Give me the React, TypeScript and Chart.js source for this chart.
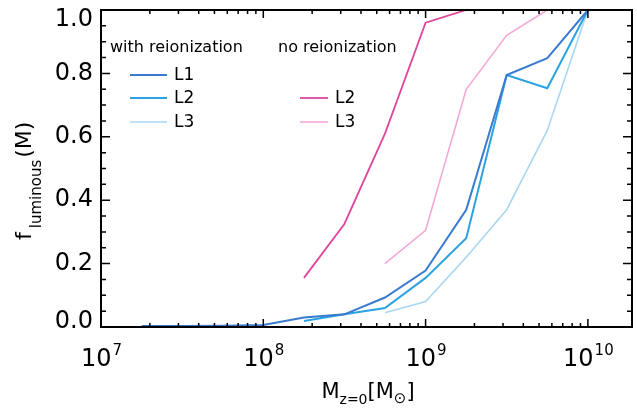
import React, { useEffect, useRef } from "react";
import { Chart, registerables } from "chart.js";

Chart.register(...registerables);

// Halo mass at z=0 (solar masses), 0.25 dex grid
const massGrid = [1.78e7, 3.16e7, 5.62e7, 1e8, 1.78e8, 3.16e8, 5.62e8, 1e9, 1.78e9, 3.16e9, 5.62e9, 1e10];

// with reionization
const reionL1 = [0.003, 0.003, 0.004, 0.006, 0.03, 0.04, 0.093, 0.178, 0.37, 0.795, 0.848, 1.0];
const reionL2 = [null, null, null, null, 0.019, 0.04, 0.06, 0.155, 0.28, 0.795, 0.753, 1.0];
const reionL3 = [null, null, null, null, null, null, 0.045, 0.08, 0.22, 0.37, 0.62, 1.0];

// no reionization
const noReionL2 = [null, null, null, null, 0.155, 0.325, 0.61, 0.96, 1.0, 1.0, 1.0, 1.0];
const noReionL3 = [null, null, null, null, null, null, 0.2, 0.305, 0.75, 0.92, 1.0, 1.0];

const xMajorTicks = [1e7, 1e8, 1e9, 1e10];
const xTickExponents = ["7", "8", "9", "10"];
const yTicks = [0, 0.2, 0.4, 0.6, 0.8, 1.0];
const yTickLabels = ["0.0", "0.2", "0.4", "0.6", "0.8", "1.0"];

const seriesLabels = ["L1", "L2", "L3", "L2", "L3"];
const seriesColors = ["#3a7bd0", "#2aa2e2", "#aad6f2", "#e0459c", "#f4a9d6"];
const seriesWidths = [2, 2, 1.6, 1.8, 1.6];

const FONT = "'DejaVu Sans', sans-serif";

const toPoints = (ys: (number | null)[]) => massGrid.map((x, i) => ({ x, y: ys[i] }));

const framePlugin = {
  id: "idlFrame",
  afterDatasetsDraw(chart: any) {
    const ctx: CanvasRenderingContext2D = chart.ctx;
    const { left, right, top, bottom } = chart.chartArea;
    const xs = chart.scales.x;
    const ys = chart.scales.y;
    ctx.save();
    ctx.strokeStyle = "#000";
    ctx.fillStyle = "#000";
    ctx.lineWidth = 2;
    ctx.strokeRect(left, top, right - left, bottom - top);

    // x ticks (bottom & top)
    ctx.lineWidth = 1.5;
    for (let d = 0; d < xMajorTicks.length; d++) {
      const dec = xMajorTicks[d];
      for (let k = 1; k <= 9; k++) {
        const v = dec * k;
        if (v > xs.max) break;
        const px = xs.getPixelForValue(v);
        const len = k === 1 ? 8 : 4;
        ctx.beginPath();
        ctx.moveTo(px, bottom);
        ctx.lineTo(px, bottom - len);
        ctx.moveTo(px, top);
        ctx.lineTo(px, top + len);
        ctx.stroke();
      }
    }
    // y ticks (left & right)
    for (let i = 0; i <= 20; i++) {
      const v = i * 0.05;
      const py = ys.getPixelForValue(v);
      const len = i % 4 === 0 ? 9 : 5;
      ctx.beginPath();
      ctx.moveTo(left, py);
      ctx.lineTo(left + len, py);
      ctx.moveTo(right, py);
      ctx.lineTo(right - len, py);
      ctx.stroke();
    }

    // y tick labels
    ctx.font = `24px ${FONT}`;
    ctx.textAlign = "right";
    ctx.textBaseline = "middle";
    yTicks.forEach((v, i) => {
      let py = Math.max(ys.getPixelForValue(v), 20);
      if (i === 0) py -= 5;
      ctx.fillText(yTickLabels[i], left - 8, py);
    });

    // x tick labels 10^n
    ctx.textBaseline = "alphabetic";
    ctx.textAlign = "left";
    xMajorTicks.forEach((v, i) => {
      const px = xs.getPixelForValue(v);
      ctx.font = `24px ${FONT}`;
      const w1 = ctx.measureText("10").width;
      ctx.font = `15px ${FONT}`;
      const w2 = ctx.measureText(xTickExponents[i]).width;
      const x0 = px - (w1 + w2) / 2;
      ctx.font = `24px ${FONT}`;
      ctx.fillText("10", x0, 366);
      ctx.font = `15px ${FONT}`;
      ctx.fillText(xTickExponents[i], x0 + w1 + 1, 355);
    });

    // x axis title M_{z=0}[M_sun]
    const parts = [
      { t: "M", s: 21, dy: 0 },
      { t: "z=0", s: 14, dy: 6 },
      { t: "[M", s: 21, dy: 0 },
      { t: "\u2299", s: 15, dy: 5 },
      { t: "]", s: 21, dy: 0 },
    ];
    const widths = parts.map((p) => {
      ctx.font = `${p.s}px ${FONT}`;
      return ctx.measureText(p.t).width;
    });
    const total = widths.reduce((a, b) => a + b, 0);
    let cx = 368 - total / 2;
    parts.forEach((p, i) => {
      ctx.font = `${p.s}px ${FONT}`;
      ctx.fillText(p.t, cx, 398 + p.dy);
      cx += widths[i];
    });

    // y axis title f_luminous(M)
    ctx.save();
    ctx.translate(31, 240);
    ctx.rotate(-Math.PI / 2);
    ctx.font = `22px ${FONT}`;
    ctx.fillText("f", 0, 0);
    let yx = ctx.measureText("f").width + 4;
    ctx.font = `15px ${FONT}`;
    ctx.fillText("luminous", yx, 10);
    yx += ctx.measureText("luminous").width + 2;
    ctx.font = `22px ${FONT}`;
    ctx.fillText("(M)", yx, 0);
    ctx.restore();

    // legend
    ctx.font = `16px ${FONT}`;
    ctx.textBaseline = "middle";
    ctx.fillText("with reionization", 110, 48);
    ctx.fillText("no reionization", 278, 48);
    const legendRows = [75, 98, 122, 98, 122];
    seriesLabels.forEach((lab, i) => {
      const isPink = i >= 3;
      const x1 = isPink ? 300 : 130;
      const x2 = isPink ? 328 : 167;
      ctx.strokeStyle = seriesColors[i];
      ctx.lineWidth = seriesWidths[i];
      ctx.beginPath();
      ctx.moveTo(x1, legendRows[i]);
      ctx.lineTo(x2, legendRows[i]);
      ctx.stroke();
      ctx.font = `17px ${FONT}`;
      ctx.fillStyle = "#000";
      ctx.fillText(lab, x2 + 7, legendRows[i] + 1);
    });
    ctx.restore();
  },
};

export default function App() {
  const ref = useRef<HTMLCanvasElement | null>(null);
  useEffect(() => {
    if (!ref.current) return;
    const seriesData = [reionL1, reionL2, reionL3, noReionL2, noReionL3];
    const chart = new Chart(ref.current, {
      type: "line",
      data: {
        datasets: seriesData.map((ys, i) => ({
          label: seriesLabels[i],
          data: toPoints(ys) as any,
          borderColor: seriesColors[i],
          borderWidth: seriesWidths[i],
          pointRadius: 0,
          tension: 0,
          fill: false,
        })),
      },
      options: {
        responsive: false,
        animation: false,
        layout: { padding: { left: 101, right: 5, top: 10, bottom: 86 } },
        plugins: { legend: { display: false }, tooltip: { enabled: false } },
        scales: {
          x: { type: "logarithmic", min: 1e7, max: 1.87e10, display: false },
          y: { type: "linear", min: 0, max: 1.0, display: false },
        },
      },
      plugins: [framePlugin],
    });
    return () => chart.destroy();
  }, []);
  return (
    <div style={{ position: "absolute", left: 0, top: 0, width: 637, height: 413, background: "#fff" }}>
      <canvas ref={ref} width={637} height={413} style={{ width: 637, height: 413 }} />
    </div>
  );
}
